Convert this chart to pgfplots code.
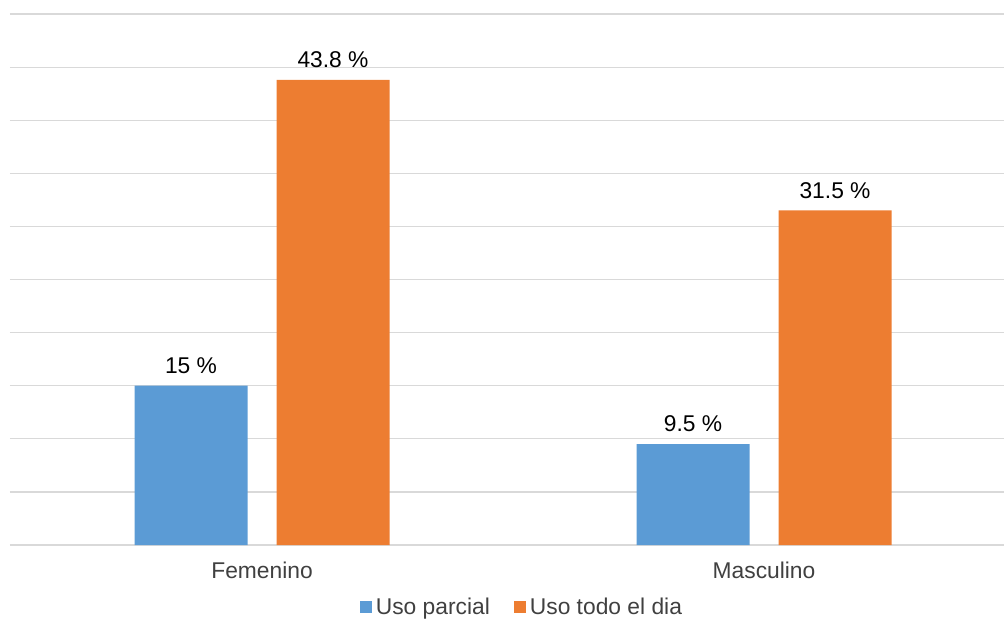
\documentclass[border=0pt]{standalone}
\usepackage{fontspec}
\setmainfont{Liberation Sans}
\usepackage{pgfplots}
\pgfplotsset{compat=1.18}
\definecolor{cblue}{HTML}{5B9BD5}
\definecolor{corange}{HTML}{ED7D31}
\definecolor{cgrid}{HTML}{D9D9D9}
\definecolor{ctext}{HTML}{404040}
\begin{document}
\begin{tikzpicture}
\begin{axis}[
  at={(5pt,39pt)}, anchor=south west,
  scale only axis, width=497pt, height=265.5pt,
  xmin=-0.502, xmax=1.478, ymin=0, ymax=50,
  ytick={0,5,...,50}, yticklabels={},
  ymajorgrids, grid style={cgrid, line width=0.6pt},
  major tick length=0pt,
  axis line style={draw=none},
  xtick={0,1}, xticklabels={Femenino, Masculino},
  xticklabel style={font=\fontsize{11.4}{13}\selectfont, text=ctext, yshift=-5pt},
  ybar=14.5pt, bar width=56.5pt,
  /pgf/number format/assume math mode=true,
  nodes near coords={\pgfmathprintnumber{\pgfplotspointmeta} \%},
  nodes near coords style={font=\fontsize{11.4}{13}\selectfont, text=black, yshift=2.5pt},
  legend style={at={(0.516,0)}, anchor=center, yshift=-31.5pt, legend columns=2,
    draw=none, fill=none, font=\fontsize{11.4}{13}\selectfont, text=ctext,
    /tikz/every even column/.append style={column sep=10pt}},
  legend image code/.code={\fill[#1] (0pt,-2.5pt) rectangle (6pt,3.5pt);},
  clip=false,
]
\addplot[fill=cblue, draw=none] coordinates {(0,15) (1,9.5)};
\addplot[fill=corange, draw=none] coordinates {(0,43.8) (1,31.5)};
\legend{Uso parcial, Uso todo el dia}
\end{axis}
\pgfresetboundingbox
\path[use as bounding box] (0,0) rectangle (502pt,311.5pt);
\end{tikzpicture}
\end{document}
